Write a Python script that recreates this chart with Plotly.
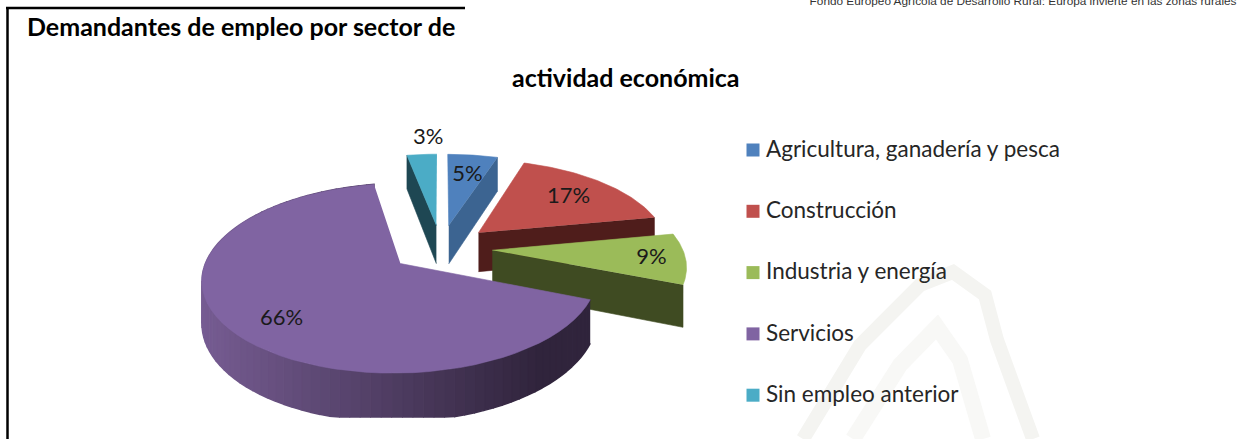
import math
import plotly.graph_objects as go

# ---- data ----
categories = ["Agricultura, ganadería y pesca", "Construcción", "Industria y energía", "Servicios", "Sin empleo anterior"]
values = [5, 17, 9, 66, 3]
value_labels = ["5%", "17%", "9%", "66%", "3%"]
title_lines = ["Demandantes de empleo por sector de", "actividad económica"]
source_note = "Fondo Europeo Agrícola de Desarrollo Rural: Europa invierte en las zonas rurales"

# ---- styles ----
face_colors = ["#4F81BD", "#C0504D", "#9BBB59", "#8064A2", "#4BACC6"]
side_colors = ["#3C6491", "#4F1D1B", "#3F4B22", "#4A3860", "#1E4753"]
label_radius = [0.62, 0.62, 0.80, 0.70, 1.22]
label_nudge = [(3, -4), (11, -3), (5, 1), (-3, 12), (9, -3)]
draw_order = [4, 0, 1, 2, 3]

# ---- projection of the tilted pie onto the page ----
CX, CY = 441, 248
A, B, K, EXPLODE, DEPTH, CROP = 190, 88, 0.15, 0.27, 40, 417
wall_left, wall_right = (118, 92, 146), (48, 36, 60)


def project(x, y):
    f = 1 / (1 + K * y)
    return CX + A * x * f, CY - B * y * f, f


def rim(off, deg):
    t = math.radians(deg)
    return off[0] + math.sin(t), off[1] + math.cos(t)


def lower(px, py, f):
    return px, min(py + DEPTH * f, CROP)


fig = go.Figure()
axis = dict(visible=False, fixedrange=True)


def poly(xs, ys, color, lw=0.6):
    fig.add_trace(go.Scatter(x=xs, y=ys, mode="lines", fill="toself", fillcolor=color,
                             line=dict(color=color, width=lw), hoverinfo="skip", showlegend=False))


# faint watermark behind the chart
for path, col, w in [
    ([(803, 439), (860, 345), (920, 285), (953, 272), (985, 295), (997, 340), (1033, 439)], "#F4F4F1", 14),
    ([(853, 439), (900, 365), (937, 327), (960, 360), (983, 439)], "#F8F8F6", 16),
]:
    fig.add_trace(go.Scatter(x=[p[0] for p in path], y=[p[1] for p in path], mode="lines",
                             line=dict(color=col, width=w), hoverinfo="skip", showlegend=False))

total = sum(values)
starts, cum = [], 0
for v in values:
    starts.append(cum / total * 360)
    cum += v

slices = []
for i, v in enumerate(values):
    a0, a1 = starts[i], starts[i] + v / total * 360
    mid = math.radians((a0 + a1) / 2)
    off = (EXPLODE * math.sin(mid), EXPLODE * math.cos(mid))
    slices.append((a0, a1, off))

for i in draw_order:
    a0, a1, off = slices[i]
    ax, ay, af = project(*off)
    if a0 < 180 < a1:  # outer wall with a gradient
        steps = 90
        seq = [a0 + (a1 - a0) * s / steps for s in range(steps + 1)]
        pts = [project(*rim(off, d)) for d in seq]
        lo, hi = min(p[0] for p in pts), max(p[0] for p in pts)
        for p, q in zip(pts, pts[1:]):
            t = (((p[0] + q[0]) / 2) - lo) / (hi - lo)
            rgb = tuple(round(wall_left[c] + (wall_right[c] - wall_left[c]) * min(t * 1.15, 1)) for c in range(3))
            bp, bq = lower(*p), lower(*q)
            poly([p[0], q[0], bq[0], bp[0]], [p[1], q[1], bq[1], bp[1]], "rgb(%d,%d,%d)" % rgb, 1.5)
    else:  # cut face turned towards the viewer
        edge = a1 if (a0 + a1) / 2 < 180 else a0
        ex, ey, ef = project(*rim(off, edge))
        b1, b2 = lower(ax, ay, af), lower(ex, ey, ef)
        poly([ax, ex, b2[0], b1[0]], [ay, ey, b2[1], b1[1]], side_colors[i])
    seq = [a0 + (a1 - a0) * s / 60 for s in range(61)]
    pts = [project(*rim(off, d)) for d in seq]
    poly([ax] + [p[0] for p in pts], [ay] + [p[1] for p in pts], face_colors[i])

# value labels
lx, ly = [], []
for i, (a0, a1, off) in enumerate(slices):
    m = math.radians((a0 + a1) / 2)
    px, py, _ = project(off[0] + label_radius[i] * math.sin(m), off[1] + label_radius[i] * math.cos(m))
    lx.append(px + label_nudge[i][0])
    ly.append(py + label_nudge[i][1])
fig.add_trace(go.Scatter(x=lx, y=ly, mode="text", text=value_labels, textposition="middle center",
                         textfont=dict(family="Lato", size=22, color="#1A1A1A"),
                         hoverinfo="skip", showlegend=False, cliponaxis=False))

# legend
LEG_X, LEG_Y0, LEG_STEP = 753, 150, 61.3
leg_y = [LEG_Y0 + LEG_STEP * i for i in range(len(categories))]
fig.add_trace(go.Scatter(x=[LEG_X] * len(categories), y=leg_y, mode="markers",
                         marker=dict(symbol="square", size=13, color=face_colors, line=dict(width=0)),
                         hoverinfo="skip", showlegend=False))
fig.add_trace(go.Scatter(x=[LEG_X + 13] * len(categories), y=[y + 1 for y in leg_y], mode="text", text=categories,
                         textposition="middle right",
                         textfont=dict(family="Lato", size=22.5, color="#262626"),
                         hoverinfo="skip", showlegend=False))

# source note, cut by the top of the page as in the reference
fig.add_trace(go.Scatter(x=[1236.5], y=[2], mode="text", text=[source_note], textposition="middle left",
                         textfont=dict(family="Liberation Sans", size=11.8, color="#333333"),
                         hoverinfo="skip", showlegend=False, cliponaxis=False))

# frame
fig.add_shape(type="line", x0=7.5, x1=7.5, y0=7, y1=439, line=dict(color="black", width=2.5))
fig.add_shape(type="line", x0=6, x1=465, y0=8, y1=8, line=dict(color="black", width=2.5))

fig.add_annotation(x=241, y=26, text="<b>%s</b>" % title_lines[0], showarrow=False, xanchor="center", yanchor="middle",
                   font=dict(family="Lato", size=25, color="black"))
fig.add_annotation(x=626, y=77, text="<b>%s</b>" % title_lines[1], showarrow=False, xanchor="center", yanchor="middle",
                   font=dict(family="Lato", size=25, color="black"))

fig.update_layout(width=1237, height=439, margin=dict(l=0, r=0, t=0, b=0), autosize=False,
                  paper_bgcolor="white", plot_bgcolor="white", showlegend=False,
                  xaxis=dict(range=[0, 1237], **axis), yaxis=dict(range=[439, 0], **axis))
fig.write_html("out.html", config={"displayModeBar": False},
               post_script="document.body.style.margin='0';document.documentElement.style.overflow='hidden';")
